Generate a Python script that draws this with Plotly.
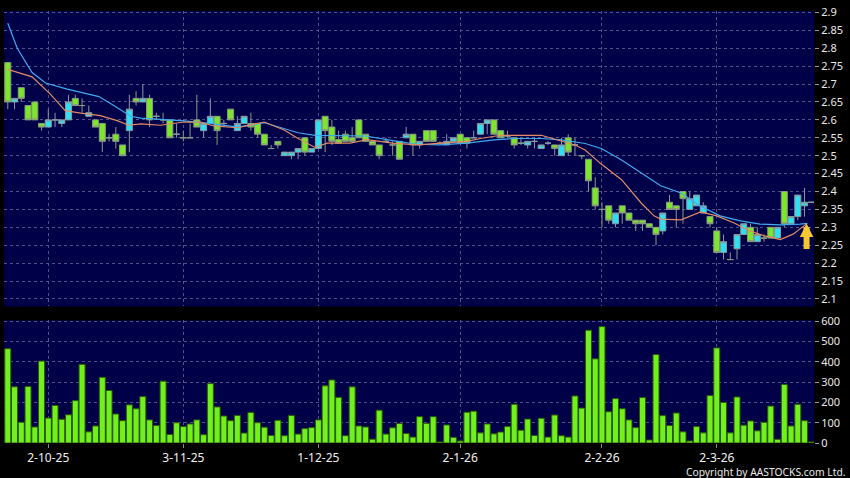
import plotly.graph_objects as go

# trading-day index (0 = first bar on the chart)
day = list(range(120))

opens = [2.76, 2.65, 2.69, 2.64, 2.65, 2.59, 2.58, 2.60, 2.59, 2.60,
         2.66, 2.64, 2.61, 2.60, 2.59, 2.55, 2.56, 2.53, 2.57, 2.66,
         2.65, 2.66, 2.61, 2.60, 2.60, 2.56, 2.55, 2.55, 2.60, 2.57,
         2.59, 2.61, 2.59, 2.63, 2.57, 2.59, 2.59, 2.59, 2.56, 2.52,
         2.54, 2.50, 2.50, 2.51, 2.55, 2.51, 2.52, 2.61, 2.58, 2.545,
         2.56, 2.55, 2.60, 2.56, 2.54, 2.53, 2.54, 2.53, 2.54, 2.55,
         2.56, 2.53, 2.57, 2.57, 2.535, 2.53, 2.54, 2.56, 2.55, 2.55,
         2.56, 2.59, 2.60, 2.57, 2.555, 2.55, 2.535, 2.53, 2.54, 2.52,
         2.535, 2.53, 2.50, 2.55, 2.53, 2.50, 2.49, 2.41, 2.35, 2.36,
         2.31, 2.36, 2.34, 2.32, 2.32, 2.31, 2.30, 2.29, 2.37, 2.36,
         2.40, 2.35, 2.36, 2.34, 2.33, 2.29, 2.23, 2.21, 2.24, 2.28,
         2.30, 2.26, 2.27, 2.30, 2.27, 2.40, 2.31, 2.33, 2.36, 2.37]
highs = [2.76, 2.66, 2.69, 2.64, 2.65, 2.59, 2.63, 2.62, 2.60, 2.67,
         2.67, 2.66, 2.64, 2.60, 2.59, 2.56, 2.58, 2.53, 2.67, 2.68,
         2.70, 2.67, 2.62, 2.62, 2.60, 2.59, 2.57, 2.59, 2.67, 2.59,
         2.66, 2.61, 2.60, 2.63, 2.61, 2.61, 2.62, 2.59, 2.56, 2.53,
         2.54, 2.51, 2.51, 2.52, 2.55, 2.52, 2.60, 2.61, 2.60, 2.57,
         2.57, 2.58, 2.60, 2.56, 2.54, 2.53, 2.55, 2.54, 2.54, 2.58,
         2.56, 2.54, 2.57, 2.57, 2.54, 2.56, 2.55, 2.56, 2.55, 2.57,
         2.59, 2.60, 2.60, 2.57, 2.57, 2.55, 2.55, 2.54, 2.55, 2.53,
         2.54, 2.53, 2.55, 2.56, 2.55, 2.50, 2.49, 2.44, 2.37, 2.36,
         2.34, 2.36, 2.34, 2.32, 2.32, 2.31, 2.30, 2.34, 2.39, 2.36,
         2.40, 2.40, 2.39, 2.37, 2.33, 2.30, 2.28, 2.23, 2.28, 2.31,
         2.31, 2.30, 2.28, 2.30, 2.30, 2.40, 2.33, 2.39, 2.41, 2.37]
lows = [2.63, 2.63, 2.65, 2.60, 2.60, 2.57, 2.58, 2.58, 2.58, 2.60,
        2.64, 2.62, 2.61, 2.58, 2.51, 2.54, 2.52, 2.50, 2.51, 2.64,
        2.65, 2.58, 2.60, 2.59, 2.55, 2.55, 2.54, 2.55, 2.58, 2.55,
        2.59, 2.53, 2.58, 2.60, 2.57, 2.59, 2.57, 2.55, 2.53, 2.52,
        2.52, 2.50, 2.49, 2.49, 2.50, 2.51, 2.52, 2.51, 2.53, 2.535,
        2.54, 2.54, 2.55, 2.54, 2.53, 2.49, 2.54, 2.50, 2.49, 2.55,
        2.50, 2.52, 2.54, 2.54, 2.53, 2.53, 2.54, 2.535, 2.52, 2.55,
        2.56, 2.56, 2.56, 2.55, 2.55, 2.52, 2.53, 2.52, 2.52, 2.52,
        2.53, 2.50, 2.50, 2.50, 2.50, 2.49, 2.40, 2.35, 2.30, 2.31,
        2.30, 2.31, 2.32, 2.29, 2.29, 2.30, 2.25, 2.28, 2.35, 2.30,
        2.31, 2.35, 2.36, 2.34, 2.30, 2.23, 2.21, 2.21, 2.21, 2.28,
        2.26, 2.26, 2.26, 2.27, 2.27, 2.30, 2.31, 2.32, 2.33, 2.37]
closes = [2.65, 2.66, 2.66, 2.60, 2.60, 2.58, 2.60, 2.60, 2.60, 2.65,
          2.64, 2.64, 2.62, 2.58, 2.54, 2.55, 2.54, 2.50, 2.63, 2.65,
          2.66, 2.60, 2.61, 2.60, 2.55, 2.56, 2.55, 2.55, 2.58, 2.59,
          2.61, 2.57, 2.59, 2.60, 2.59, 2.61, 2.58, 2.56, 2.53, 2.52,
          2.53, 2.51, 2.51, 2.52, 2.51, 2.52, 2.60, 2.57, 2.54, 2.535,
          2.54, 2.54, 2.55, 2.54, 2.53, 2.50, 2.54, 2.53, 2.49, 2.56,
          2.53, 2.54, 2.54, 2.54, 2.535, 2.54, 2.55, 2.535, 2.535, 2.55,
          2.59, 2.60, 2.56, 2.55, 2.555, 2.53, 2.535, 2.54, 2.54, 2.53,
          2.535, 2.52, 2.53, 2.51, 2.53, 2.50, 2.43, 2.36, 2.35, 2.32,
          2.34, 2.34, 2.32, 2.31, 2.31, 2.30, 2.28, 2.34, 2.35, 2.35,
          2.38, 2.38, 2.39, 2.36, 2.31, 2.23, 2.26, 2.21, 2.28, 2.31,
          2.26, 2.28, 2.27, 2.27, 2.30, 2.31, 2.33, 2.39, 2.37, 2.37]

# volume (thousands of shares)
volume = [465, 277, 102, 279, 79, 404, 123, 185, 117, 139,
          209, 388, 55, 84, 324, 259, 143, 110, 188, 169,
          229, 114, 86, 305, 42, 100, 81, 94, 114, 41,
          293, 178, 133, 110, 136, 49, 151, 100, 78, 37,
          112, 36, 136, 44, 71, 76, 114, 282, 311, 225,
          36, 277, 84, 79, 19, 162, 44, 75, 96, 47,
          29, 130, 97, 130, 5, 89, 28, 10, 152, 157,
          50, 94, 45, 54, 81, 191, 63, 118, 37, 122,
          29, 138, 36, 29, 232, 172, 556, 415, 574, 154,
          219, 169, 114, 76, 224, 15, 436, 135, 86, 148,
          55, 10, 81, 50, 234, 469, 200, 50, 227, 88,
          109, 60, 102, 182, 18, 289, 84, 191, 110, 5]

# moving averages
ma20_x = [0, 1.4, 3.6, 5.6, 8.8, 10.8, 13.5, 15.7, 18.2, 19.7, 22.1, 26.1,
          30.5, 34, 38, 41, 43, 45.5, 50, 53, 57, 60.6, 64, 68, 72, 75, 79,
          82, 85.5, 87.9, 90.9, 93.8, 96.7, 99.7, 102.6, 105.5, 108.5,
          111.4, 114.4, 117.3, 118.4]
ma20_y = [2.87, 2.80, 2.732, 2.703, 2.686, 2.677, 2.665, 2.64, 2.61, 2.605,
          2.602, 2.597, 2.589, 2.58, 2.592, 2.576, 2.564, 2.557, 2.555, 2.555,
          2.542, 2.532, 2.53, 2.535, 2.544, 2.548, 2.548, 2.544, 2.534, 2.52,
          2.488, 2.451, 2.416, 2.396, 2.359, 2.332, 2.318, 2.309, 2.307,
          2.309, 2.311]
ma10_x = [0, 3.6, 6.3, 8.5, 10.8, 13.7, 16.2, 17.9, 19.7, 22.6, 26.1, 28.5,
          30.5, 34, 38, 41, 43, 45.5, 47.3, 50.7, 53.2, 57, 60.6, 64, 68, 70,
          73, 79, 82, 84, 85.5, 87.8, 90.9, 93.8, 95.7, 96.7, 99.7, 102.6,
          105, 107.5, 109.9, 111.9, 114.4, 116.3, 118.4]
ma10_y = [2.741, 2.72, 2.672, 2.626, 2.619, 2.612, 2.598, 2.585, 2.589, 2.585,
          2.594, 2.594, 2.583, 2.578, 2.594, 2.571, 2.548, 2.523, 2.535, 2.535,
          2.545, 2.535, 2.53, 2.535, 2.54, 2.548, 2.557, 2.557, 2.541, 2.53,
          2.516, 2.478, 2.433, 2.368, 2.332, 2.323, 2.321, 2.343, 2.332,
          2.313, 2.29, 2.277, 2.266, 2.281, 2.311]

tick_days = [6, 26, 46, 67, 88, 105]
tick_labels = ["2-10-25", "3-11-25", "1-12-25", "2-1-26", "2-2-26", "2-3-26"]
price_ticks = [2.1, 2.15, 2.2, 2.25, 2.3, 2.35, 2.4, 2.45, 2.5, 2.55,
               2.6, 2.65, 2.7, 2.75, 2.8, 2.85, 2.9]
price_labels = ["2.1", "2.15", "2.2", "2.25", "2.3", "2.35", "2.4", "2.45", "2.5",
                "2.55", "2.6", "2.65", "2.7", "2.75", "2.8", "2.85", "2.9"]
vol_ticks = [0, 100, 200, 300, 400, 500, 600]

NAVY = "#000048"
GRID = "#50508a"
FONT = "Noto Sans"

fig = go.Figure()

fig.add_trace(go.Candlestick(
    x=day, open=opens, high=highs, low=lows, close=closes,
    increasing=dict(fillcolor="#2fe0f0", line=dict(color="#8a9aa0", width=1)),
    decreasing=dict(fillcolor="#7ce62a", line=dict(color="#8a9a80", width=1)),
    whiskerwidth=0, xaxis="x", yaxis="y", showlegend=False,
))
fig.add_trace(go.Scatter(x=ma20_x, y=ma20_y, mode="lines",
                         line=dict(color="#40aaf0", width=1.2), xaxis="x", yaxis="y",
                         showlegend=False))
fig.add_trace(go.Scatter(x=ma10_x, y=ma10_y, mode="lines",
                         line=dict(color="#e08a66", width=1.2), xaxis="x", yaxis="y",
                         showlegend=False))

fig.add_trace(go.Bar(x=day, y=volume, xaxis="x2", yaxis="y2",
                     marker=dict(color="#72f01e", line=dict(color="#2a5a08", width=1)),
                     showlegend=False))

# yellow marker arrow under the last bar
fig.add_annotation(x=118.3, y=2.311, xref="x", yref="y", text="",
                   showarrow=True, ax=0, ay=27, arrowhead=2, arrowsize=0.45,
                   arrowwidth=6, arrowcolor="#f5c832")

fig.add_annotation(x=1, y=0, xref="paper", yref="paper", xanchor="right",
                   yanchor="middle", xshift=34, yshift=-29, showarrow=False,
                   text="Copyright by AASTOCKS.com Ltd.",
                   font=dict(family=FONT, size=10.3, color="#e8e8e8"))

xcommon = dict(range=[-0.56, 119.4], tickvals=tick_days, ticktext=tick_labels,
               showgrid=True, gridcolor=GRID, griddash="3px,3px", gridwidth=1,
               zeroline=False, showline=False, fixedrange=True)

fig.update_layout(
    width=850, height=478,
    margin=dict(l=4, r=36, t=6, b=35),
    paper_bgcolor="#000000",
    plot_bgcolor=NAVY,
    boxgap=0.11,
    boxgroupgap=0,
    bargap=0.11,
    font=dict(family=FONT, color="#e8e8e8", size=11),
    xaxis=dict(**xcommon, domain=[0, 1], anchor="y", showticklabels=False,
               ticks="", rangeslider=dict(visible=False)),
    xaxis2=dict(**xcommon, domain=[0, 1], anchor="y2", matches="x",
                ticks="outside", ticklen=4, tickcolor="#888888",
                tickfont=dict(size=12, color="#f0f0f0")),
    yaxis=dict(domain=[0.316, 1.0], range=[2.079, 2.904], side="right",
               tickvals=price_ticks, ticktext=price_labels,
               ticks="outside", ticklen=4, tickcolor="#999999",
               showgrid=True, gridcolor=GRID, griddash="3px,3px",
               zeroline=False, showline=False, fixedrange=True),
    yaxis2=dict(domain=[0, 0.284], range=[0, 605], side="right",
                tickvals=vol_ticks, ticks="outside", ticklen=4, tickcolor="#999999",
                showgrid=True, gridcolor=GRID, griddash="3px,3px",
                zeroline=False, showline=False, fixedrange=True),
    showlegend=False,
)

# drop the default 8px page margin so the figure sits at the window's corner
fig.write_html("out.html", config={"displayModeBar": False},
               post_script="document.body.style.margin='0';document.body.style.background='#000';")
